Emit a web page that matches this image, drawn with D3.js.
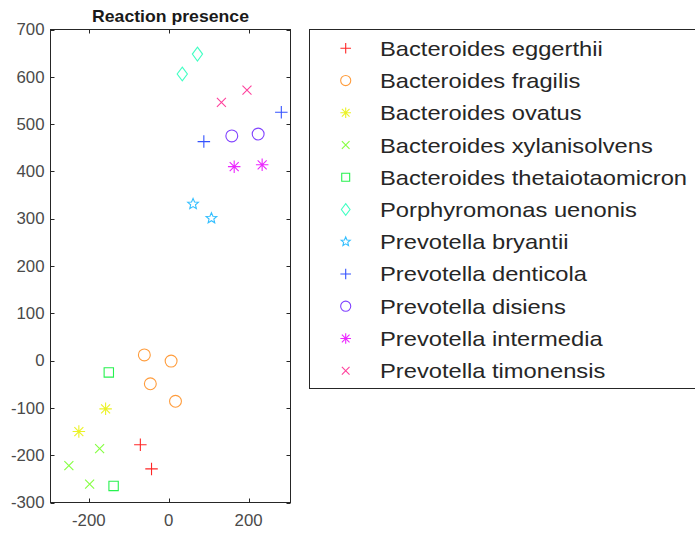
<!DOCTYPE html>
<html><head><meta charset="utf-8">
<script src="https://cdn.jsdelivr.net/npm/d3@7"></script>
<style>body{margin:0;background:#fff;} svg{display:block;}</style>
</head><body>
<script>
// ---- data ----
const species = ["Bacteroides eggerthii","Bacteroides fragilis","Bacteroides ovatus","Bacteroides xylanisolvens","Bacteroides thetaiotaomicron","Porphyromonas uenonis","Prevotella bryantii","Prevotella denticola","Prevotella disiens","Prevotella intermedia","Prevotella timonensis"];
const markers = ["+","o","*","x","s","d","p","+","o","*","x"];
const colors = ["#ff0000","#ff8b1a","#e8f000","#70ff20","#00f030","#20ffb9","#10b4ff","#1034ff","#6a20ff","#e800ff","#ff208b"];
const xValues = [
  [-71,-43],
  [-61,6,-46,17],
  [-158,-225],
  [-173,-250,-198],
  [-150,-138],
  [34,72],
  [61,107],
  [282,88],
  [158,224],
  [164,234],
  [132,196]
];
const yValues = [
  [-178,-229],
  [12,-1,-49,-86],
  [-102,-150],
  [-186,-222,-261],
  [-25,-265],
  [606,648],
  [331,301],
  [525,463],
  [475,479],
  [410,414],
  [546,572]
];
const xTicks = [-200,0,200];
const yTicks = [-300,-200,-100,0,100,200,300,400,500,600,700];
const title = "Reaction presence";

// ---- layout ----
const W = 695, H = 539;
const svg = d3.select("body").append("svg").attr("width",W).attr("height",H);
const x = d3.scaleLinear().domain([-296,305]).range([50.5,290.5]);
const y = d3.scaleLinear().domain([-300,700]).range([502.5,29.5]);

function markerPath(m, s){
  const r = s/2;
  switch(m){
    case "+": return `M${-r},0H${r}M0,${-r}V${r}`;
    case "x": { const q=r*0.75; return `M${-q},${-q}L${q},${q}M${-q},${q}L${q},${-q}`; }
    case "*": { const q=r*0.72; return `M${-r},0H${r}M0,${-r}V${r}M${-q},${-q}L${q},${q}M${-q},${q}L${q},${-q}`; }
    case "o": { const p=d3.path(); p.arc(0,0,r*0.95,0,2*Math.PI); p.closePath(); return p.toString(); }
    case "s": { const q=r*0.78; return `M${-q},${-q}H${q}V${q}H${-q}Z`; }
    case "d": return `M0,${-r*1.15}L${r*0.85},0L0,${r*1.15}L${-r*0.85},0Z`;
    case "p": {
      let d=""; const R=r*0.98, ri=R*0.45;
      for(let i=0;i<10;i++){
        const a = -Math.PI/2 + i*Math.PI/5; const rr = i%2?ri:R;
        d += (i?"L":"M") + (rr*Math.cos(a)).toFixed(2)+","+(rr*Math.sin(a)).toFixed(2);
      }
      return d+"Z";
    }
  }
}
const sizes = {"+":12.5,"x":12,"*":12.5,"o":12.5,"s":12,"d":12,"p":11.5};

const axC = "#262626", tl = 4;
const gAx = svg.append("g");
gAx.append("rect").attr("x",x.range()[0]).attr("y",y.range()[1])
  .attr("width",x.range()[1]-x.range()[0]).attr("height",y.range()[0]-y.range()[1])
  .attr("fill","none").attr("stroke",axC).attr("stroke-width",1);
yTicks.forEach(t=>{
  const yy = Math.round(y(t))+0.5;
  gAx.append("line").attr("x1",x.range()[0]).attr("x2",x.range()[0]+tl).attr("y1",yy).attr("y2",yy).attr("stroke",axC);
  gAx.append("line").attr("x1",x.range()[1]).attr("x2",x.range()[1]-tl).attr("y1",yy).attr("y2",yy).attr("stroke",axC);
  gAx.append("g").attr("transform",`translate(${x.range()[0]-6},${y(t)}) scale(1.05,1)`)
    .append("text").attr("text-anchor","end").attr("dy","0.36em")
    .attr("font-family","Liberation Sans, Arial, sans-serif").attr("font-size",16).attr("fill","#4a4a4a").text(t);
});
xTicks.forEach(t=>{
  const xx = Math.round(x(t))+0.5;
  gAx.append("line").attr("x1",xx).attr("x2",xx).attr("y1",y.range()[0]).attr("y2",y.range()[0]-tl).attr("stroke",axC);
  gAx.append("line").attr("x1",xx).attr("x2",xx).attr("y1",y.range()[1]).attr("y2",y.range()[1]+tl).attr("stroke",axC);
  gAx.append("g").attr("transform",`translate(${x(t)},526) scale(1.05,1)`)
    .append("text").attr("text-anchor","middle")
    .attr("font-family","Liberation Sans, Arial, sans-serif").attr("font-size",16).attr("fill","#4a4a4a").text(t);
});
svg.append("g").attr("transform",`translate(${(x.range()[0]+x.range()[1])/2},22) scale(1.07,1)`)
  .append("text").attr("text-anchor","middle").attr("font-weight","bold")
  .attr("font-family","Liberation Sans, Arial, sans-serif").attr("font-size",16.5).attr("fill","#1a1a1a").text(title);

species.forEach((sp,i)=>{
  const g = svg.append("g");
  xValues[i].forEach((xv,j)=>{
    g.append("path").attr("d",markerPath(markers[i],sizes[markers[i]]))
      .attr("transform",`translate(${x(xv)},${y(yValues[i][j])})`)
      .attr("fill","none").attr("stroke",colors[i]).attr("stroke-width",1.1).attr("stroke-opacity",0.85);
  });
});

const lg = svg.append("g");
lg.append("rect").attr("x",309.5).attr("y",29.5).attr("width",400).attr("height",359)
  .attr("fill","#fff").attr("stroke",axC).attr("stroke-width",1);
species.forEach((sp,i)=>{
  const yy = 48.3 + i*32.24;
  lg.append("path").attr("d",markerPath(markers[i],sizes[markers[i]]*0.85))
    .attr("transform",`translate(345.7,${yy})`).attr("fill","none").attr("stroke",colors[i]).attr("stroke-width",1.1).attr("stroke-opacity",0.85);
  lg.append("g").attr("transform",`translate(380,${yy}) scale(1.14,1)`)
    .append("text").attr("dy","0.36em")
    .attr("font-family","Liberation Sans, Arial, sans-serif").attr("font-size",20.8).attr("fill","#262626").text(sp);
});
</script>
</body></html>
